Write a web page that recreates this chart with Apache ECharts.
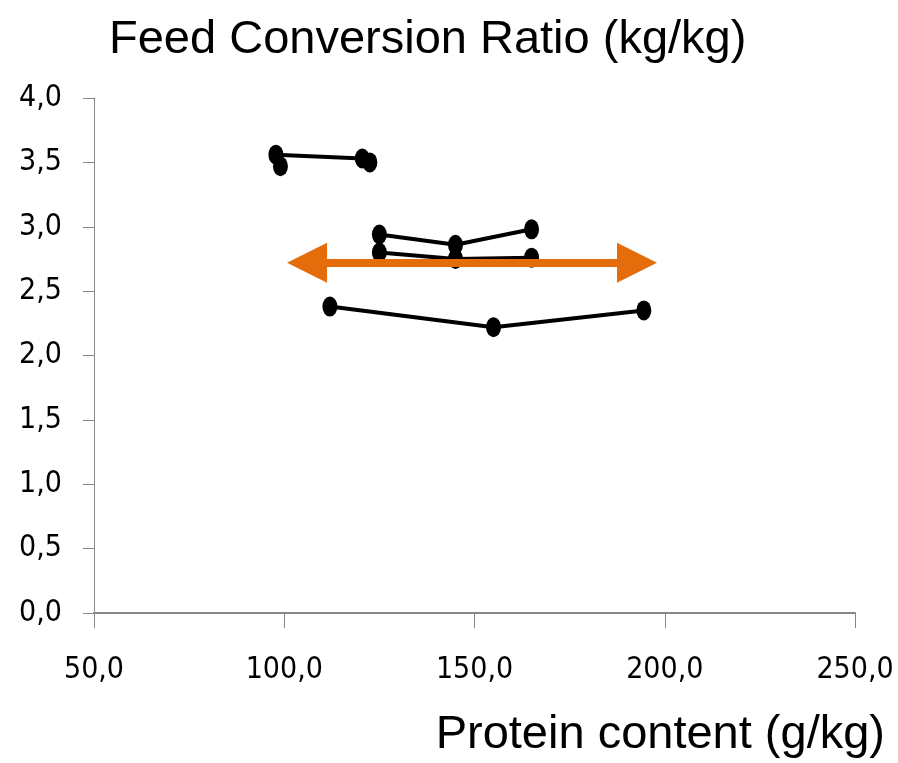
<!DOCTYPE html>
<html>
<head>
<meta charset="utf-8">
<script src="https://cdn.jsdelivr.net/npm/echarts@6/dist/echarts.min.js"></script>
<style>html,body{margin:0;padding:0;background:#fff}#c{width:898px;height:763px}</style>
</head>
<body>
<div id="c"></div>
<script>
var titleText = 'Feed Conversion Ratio (kg/kg)';
var xName = 'Protein content (g/kg)';
var xTicks = [50, 100, 150, 200, 250];
var yTicks = [0, 0.5, 1, 1.5, 2, 2.5, 3, 3.5, 4];

var groupA = [[97.8, 3.56], [120.5, 3.53]];
var groupAExtra = [[99.0, 3.47], [122.5, 3.50]];
var groupB = [[125, 2.94], [145, 2.86], [165, 2.98]];
var groupC = [[125, 2.80], [145, 2.75], [165, 2.76]];
var groupD = [[112, 2.38], [155, 2.22], [194.5, 2.35]];
var arrowRange = [[106, 2.72], [192.7, 2.72]];

var NARROW = "'DejaVu Sans Condensed', 'Liberation Sans Narrow', 'Liberation Sans', sans-serif";
var WIDE = "'Liberation Sans', Arial, sans-serif";
var fmt = function (v) { return v.toFixed(1).replace('.', ','); };

function lineSeries(data) {
  return {
    type: 'line', data: data, symbol: 'circle', symbolSize: [15, 20],
    itemStyle: { color: '#000', opacity: 1 }, lineStyle: { color: '#000', width: 4 },
    z: 3, animation: false
  };
}

var chart = echarts.init(document.getElementById('c'), null, { renderer: 'canvas' });
chart.setOption({
  backgroundColor: '#fff',
  animation: false,
  title: {
    text: titleText, left: 104, top: 12,
    textStyle: { fontFamily: WIDE, fontSize: 47, fontWeight: 'normal', color: '#000' }
  },
  graphic: [{
    type: 'text', right: 13, top: 712,
    style: { text: xName, fontFamily: WIDE, fontSize: 47, fill: '#000' }
  }],
  grid: { left: 94, right: 43, top: 98, bottom: 150 },
  xAxis: {
    type: 'value', min: xTicks[0], max: xTicks[xTicks.length - 1], interval: 50,
    axisLine: { show: true, onZero: false, lineStyle: { color: '#868686', width: 2 } },
    axisTick: { show: true, length: 15, lineStyle: { color: '#868686', width: 1 } },
    axisLabel: { formatter: fmt, fontFamily: NARROW, fontSize: 30, color: '#000', margin: 42 },
    splitLine: { show: false }
  },
  yAxis: {
    type: 'value', min: yTicks[0], max: yTicks[yTicks.length - 1], interval: 0.5,
    axisLine: { show: true, lineStyle: { color: '#868686', width: 1 } },
    axisTick: { show: true, length: 11, lineStyle: { color: '#868686', width: 1 } },
    axisLabel: { formatter: fmt, fontFamily: NARROW, fontSize: 30, color: '#000', margin: 32 },
    splitLine: { show: false }
  },
  series: [
    lineSeries(groupA),
    { type: 'scatter', data: groupAExtra, symbol: 'circle', symbolSize: [15, 20], itemStyle: { color: '#000', opacity: 1 }, z: 3 },
    lineSeries(groupB),
    lineSeries(groupC),
    lineSeries(groupD),
    {
      type: 'line', data: [], z: 5,
      markLine: {
        silent: true, animation: false,
        symbol: ['triangle', 'triangle'], symbolSize: [40, 40],
        lineStyle: { color: '#E46C0A', width: 8, type: 'solid' },
        itemStyle: { color: '#E46C0A' },
        label: { show: false },
        data: [[{ coord: arrowRange[0] }, { coord: arrowRange[1] }]]
      }
    }
  ]
});
</script>
</body>
</html>
